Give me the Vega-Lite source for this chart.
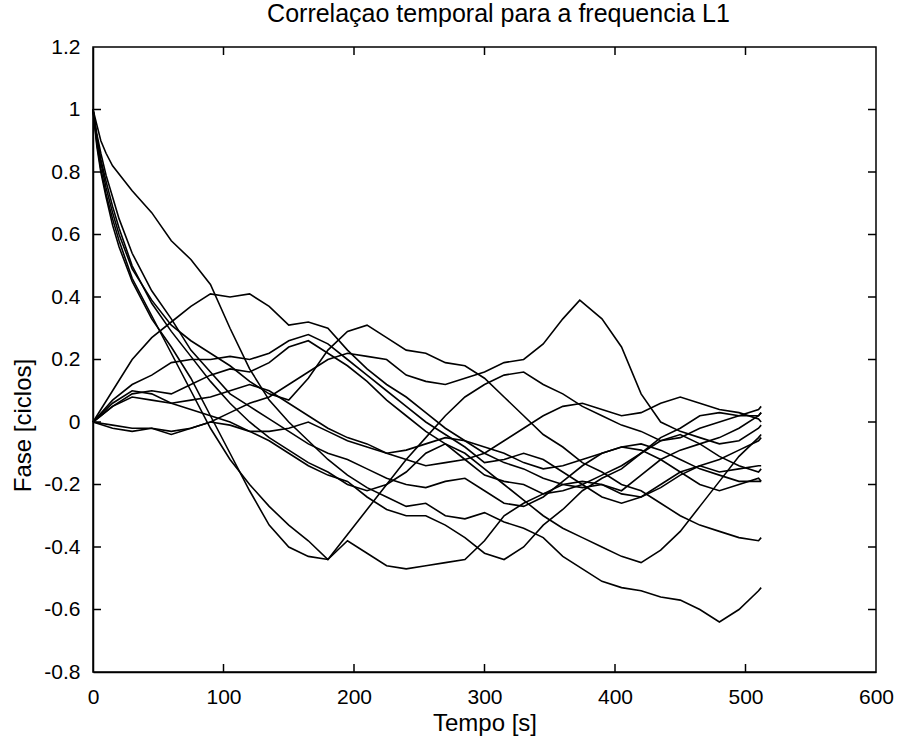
{
  "$schema": "https://vega.github.io/schema/vega-lite/v6.json",
  "width": 783,
  "height": 625,
  "autosize": "none",
  "padding": {"left": 93, "top": 47, "right": 31, "bottom": 70},
  "config": {"view": {"stroke": "black", "strokeWidth": 1.5}},
  "title": {"text": "Correlaçao temporal para a frequencia L1", "fontSize": 25, "fontWeight": "normal", "font": "Liberation Sans", "color": "black", "offset": 9, "anchor": "middle", "dx": 14},
  "data": {"values": [
    {"s":"S1","t":0,"v":1},{"s":"S1","t":3,"v":0.95},{"s":"S1","t":6,"v":0.9},{"s":"S1","t":10,"v":0.86},{"s":"S1","t":15,"v":0.82},{"s":"S1","t":30,"v":0.74},{"s":"S1","t":45,"v":0.67},{"s":"S1","t":60,"v":0.58},{"s":"S1","t":75,"v":0.52},{"s":"S1","t":90,"v":0.44},{"s":"S1","t":105,"v":0.3},{"s":"S1","t":120,"v":0.17},{"s":"S1","t":135,"v":0.07},{"s":"S1","t":150,"v":0.0},{"s":"S1","t":165,"v":-0.06},{"s":"S1","t":180,"v":-0.12},{"s":"S1","t":195,"v":-0.17},{"s":"S1","t":210,"v":-0.21},{"s":"S1","t":225,"v":-0.24},{"s":"S1","t":240,"v":-0.27},{"s":"S1","t":255,"v":-0.26},{"s":"S1","t":270,"v":-0.3},{"s":"S1","t":285,"v":-0.31},{"s":"S1","t":300,"v":-0.29},{"s":"S1","t":315,"v":-0.32},{"s":"S1","t":330,"v":-0.34},{"s":"S1","t":345,"v":-0.37},{"s":"S1","t":360,"v":-0.43},{"s":"S1","t":375,"v":-0.47},{"s":"S1","t":390,"v":-0.51},{"s":"S1","t":405,"v":-0.53},{"s":"S1","t":420,"v":-0.54},{"s":"S1","t":435,"v":-0.56},{"s":"S1","t":450,"v":-0.57},{"s":"S1","t":465,"v":-0.6},{"s":"S1","t":480,"v":-0.64},{"s":"S1","t":495,"v":-0.6},{"s":"S1","t":510,"v":-0.54},{"s":"S1","t":512,"v":-0.53},
    {"s":"S2","t":0,"v":1},{"s":"S2","t":3,"v":0.88},{"s":"S2","t":6,"v":0.8},{"s":"S2","t":10,"v":0.72},{"s":"S2","t":15,"v":0.63},{"s":"S2","t":20,"v":0.56},{"s":"S2","t":30,"v":0.45},{"s":"S2","t":45,"v":0.33},{"s":"S2","t":60,"v":0.24},{"s":"S2","t":75,"v":0.14},{"s":"S2","t":90,"v":0.02},{"s":"S2","t":105,"v":-0.1},{"s":"S2","t":120,"v":-0.22},{"s":"S2","t":135,"v":-0.33},{"s":"S2","t":150,"v":-0.4},{"s":"S2","t":165,"v":-0.43},{"s":"S2","t":180,"v":-0.44},{"s":"S2","t":195,"v":-0.38},{"s":"S2","t":210,"v":-0.42},{"s":"S2","t":225,"v":-0.46},{"s":"S2","t":240,"v":-0.47},{"s":"S2","t":255,"v":-0.46},{"s":"S2","t":270,"v":-0.45},{"s":"S2","t":285,"v":-0.44},{"s":"S2","t":300,"v":-0.38},{"s":"S2","t":315,"v":-0.3},{"s":"S2","t":330,"v":-0.26},{"s":"S2","t":345,"v":-0.23},{"s":"S2","t":360,"v":-0.2},{"s":"S2","t":375,"v":-0.19},{"s":"S2","t":390,"v":-0.2},{"s":"S2","t":405,"v":-0.23},{"s":"S2","t":420,"v":-0.24},{"s":"S2","t":435,"v":-0.2},{"s":"S2","t":450,"v":-0.16},{"s":"S2","t":465,"v":-0.14},{"s":"S2","t":480,"v":-0.16},{"s":"S2","t":495,"v":-0.15},{"s":"S2","t":510,"v":-0.14},{"s":"S2","t":512,"v":-0.14},
    {"s":"S3","t":0,"v":1},{"s":"S3","t":3,"v":0.91},{"s":"S3","t":6,"v":0.84},{"s":"S3","t":10,"v":0.77},{"s":"S3","t":15,"v":0.69},{"s":"S3","t":20,"v":0.62},{"s":"S3","t":30,"v":0.5},{"s":"S3","t":45,"v":0.38},{"s":"S3","t":60,"v":0.29},{"s":"S3","t":75,"v":0.21},{"s":"S3","t":90,"v":0.13},{"s":"S3","t":105,"v":0.06},{"s":"S3","t":120,"v":0.0},{"s":"S3","t":135,"v":-0.05},{"s":"S3","t":150,"v":-0.09},{"s":"S3","t":165,"v":-0.13},{"s":"S3","t":180,"v":-0.16},{"s":"S3","t":195,"v":-0.2},{"s":"S3","t":210,"v":-0.22},{"s":"S3","t":225,"v":-0.2},{"s":"S3","t":240,"v":-0.16},{"s":"S3","t":255,"v":-0.1},{"s":"S3","t":270,"v":-0.07},{"s":"S3","t":285,"v":-0.1},{"s":"S3","t":300,"v":-0.15},{"s":"S3","t":315,"v":-0.2},{"s":"S3","t":330,"v":-0.25},{"s":"S3","t":345,"v":-0.3},{"s":"S3","t":360,"v":-0.34},{"s":"S3","t":375,"v":-0.37},{"s":"S3","t":390,"v":-0.4},{"s":"S3","t":405,"v":-0.43},{"s":"S3","t":420,"v":-0.45},{"s":"S3","t":435,"v":-0.41},{"s":"S3","t":450,"v":-0.35},{"s":"S3","t":465,"v":-0.27},{"s":"S3","t":480,"v":-0.19},{"s":"S3","t":495,"v":-0.11},{"s":"S3","t":510,"v":-0.05},{"s":"S3","t":512,"v":-0.04},
    {"s":"S4","t":0,"v":1},{"s":"S4","t":3,"v":0.9},{"s":"S4","t":6,"v":0.83},{"s":"S4","t":10,"v":0.75},{"s":"S4","t":15,"v":0.67},{"s":"S4","t":20,"v":0.6},{"s":"S4","t":30,"v":0.49},{"s":"S4","t":45,"v":0.39},{"s":"S4","t":60,"v":0.31},{"s":"S4","t":75,"v":0.26},{"s":"S4","t":90,"v":0.22},{"s":"S4","t":105,"v":0.18},{"s":"S4","t":120,"v":0.13},{"s":"S4","t":135,"v":0.09},{"s":"S4","t":150,"v":0.07},{"s":"S4","t":165,"v":0.14},{"s":"S4","t":180,"v":0.23},{"s":"S4","t":195,"v":0.29},{"s":"S4","t":210,"v":0.31},{"s":"S4","t":225,"v":0.27},{"s":"S4","t":240,"v":0.23},{"s":"S4","t":255,"v":0.22},{"s":"S4","t":270,"v":0.19},{"s":"S4","t":285,"v":0.18},{"s":"S4","t":300,"v":0.14},{"s":"S4","t":315,"v":0.08},{"s":"S4","t":330,"v":0.02},{"s":"S4","t":345,"v":-0.04},{"s":"S4","t":360,"v":-0.08},{"s":"S4","t":375,"v":-0.13},{"s":"S4","t":390,"v":-0.16},{"s":"S4","t":405,"v":-0.2},{"s":"S4","t":420,"v":-0.22},{"s":"S4","t":435,"v":-0.26},{"s":"S4","t":450,"v":-0.3},{"s":"S4","t":465,"v":-0.33},{"s":"S4","t":480,"v":-0.35},{"s":"S4","t":495,"v":-0.37},{"s":"S4","t":510,"v":-0.38},{"s":"S4","t":512,"v":-0.37},
    {"s":"S5","t":0,"v":1},{"s":"S5","t":3,"v":0.92},{"s":"S5","t":6,"v":0.86},{"s":"S5","t":10,"v":0.79},{"s":"S5","t":15,"v":0.72},{"s":"S5","t":20,"v":0.65},{"s":"S5","t":30,"v":0.54},{"s":"S5","t":45,"v":0.42},{"s":"S5","t":60,"v":0.33},{"s":"S5","t":75,"v":0.23},{"s":"S5","t":90,"v":0.16},{"s":"S5","t":105,"v":0.09},{"s":"S5","t":120,"v":0.05},{"s":"S5","t":135,"v":0.01},{"s":"S5","t":150,"v":-0.03},{"s":"S5","t":165,"v":-0.07},{"s":"S5","t":180,"v":-0.1},{"s":"S5","t":195,"v":-0.12},{"s":"S5","t":210,"v":-0.15},{"s":"S5","t":225,"v":-0.18},{"s":"S5","t":240,"v":-0.2},{"s":"S5","t":255,"v":-0.21},{"s":"S5","t":270,"v":-0.19},{"s":"S5","t":285,"v":-0.18},{"s":"S5","t":300,"v":-0.22},{"s":"S5","t":315,"v":-0.26},{"s":"S5","t":330,"v":-0.27},{"s":"S5","t":345,"v":-0.24},{"s":"S5","t":360,"v":-0.19},{"s":"S5","t":375,"v":-0.14},{"s":"S5","t":390,"v":-0.1},{"s":"S5","t":405,"v":-0.08},{"s":"S5","t":420,"v":-0.09},{"s":"S5","t":435,"v":-0.12},{"s":"S5","t":450,"v":-0.16},{"s":"S5","t":465,"v":-0.2},{"s":"S5","t":480,"v":-0.22},{"s":"S5","t":495,"v":-0.2},{"s":"S5","t":510,"v":-0.18},{"s":"S5","t":512,"v":-0.19},
    {"s":"S6","t":0,"v":1},{"s":"S6","t":3,"v":0.89},{"s":"S6","t":6,"v":0.81},{"s":"S6","t":10,"v":0.73},{"s":"S6","t":15,"v":0.65},{"s":"S6","t":20,"v":0.58},{"s":"S6","t":30,"v":0.46},{"s":"S6","t":45,"v":0.34},{"s":"S6","t":60,"v":0.22},{"s":"S6","t":75,"v":0.1},{"s":"S6","t":90,"v":-0.02},{"s":"S6","t":105,"v":-0.12},{"s":"S6","t":120,"v":-0.2},{"s":"S6","t":135,"v":-0.27},{"s":"S6","t":150,"v":-0.33},{"s":"S6","t":165,"v":-0.38},{"s":"S6","t":180,"v":-0.44},{"s":"S6","t":195,"v":-0.36},{"s":"S6","t":210,"v":-0.28},{"s":"S6","t":225,"v":-0.2},{"s":"S6","t":240,"v":-0.12},{"s":"S6","t":255,"v":-0.05},{"s":"S6","t":270,"v":0.02},{"s":"S6","t":285,"v":0.08},{"s":"S6","t":300,"v":0.12},{"s":"S6","t":315,"v":0.15},{"s":"S6","t":330,"v":0.16},{"s":"S6","t":345,"v":0.12},{"s":"S6","t":360,"v":0.09},{"s":"S6","t":375,"v":0.05},{"s":"S6","t":390,"v":0.02},{"s":"S6","t":405,"v":-0.01},{"s":"S6","t":420,"v":-0.03},{"s":"S6","t":435,"v":-0.06},{"s":"S6","t":450,"v":-0.05},{"s":"S6","t":465,"v":-0.02},{"s":"S6","t":480,"v":0.0},{"s":"S6","t":495,"v":0.02},{"s":"S6","t":510,"v":0.04},{"s":"S6","t":512,"v":0.05},
    {"s":"Z1","t":0,"v":0},{"s":"Z1","t":15,"v":0.1},{"s":"Z1","t":30,"v":0.2},{"s":"Z1","t":45,"v":0.27},{"s":"Z1","t":60,"v":0.32},{"s":"Z1","t":75,"v":0.37},{"s":"Z1","t":90,"v":0.41},{"s":"Z1","t":105,"v":0.4},{"s":"Z1","t":120,"v":0.41},{"s":"Z1","t":135,"v":0.37},{"s":"Z1","t":150,"v":0.31},{"s":"Z1","t":165,"v":0.32},{"s":"Z1","t":180,"v":0.3},{"s":"Z1","t":195,"v":0.23},{"s":"Z1","t":210,"v":0.17},{"s":"Z1","t":225,"v":0.12},{"s":"Z1","t":240,"v":0.08},{"s":"Z1","t":255,"v":0.03},{"s":"Z1","t":270,"v":-0.02},{"s":"Z1","t":285,"v":-0.06},{"s":"Z1","t":300,"v":-0.1},{"s":"Z1","t":315,"v":-0.13},{"s":"Z1","t":330,"v":-0.15},{"s":"Z1","t":345,"v":-0.18},{"s":"Z1","t":360,"v":-0.2},{"s":"Z1","t":375,"v":-0.21},{"s":"Z1","t":390,"v":-0.2},{"s":"Z1","t":405,"v":-0.22},{"s":"Z1","t":420,"v":-0.17},{"s":"Z1","t":435,"v":-0.12},{"s":"Z1","t":450,"v":-0.09},{"s":"Z1","t":465,"v":-0.07},{"s":"Z1","t":480,"v":-0.05},{"s":"Z1","t":495,"v":-0.02},{"s":"Z1","t":510,"v":0.02},{"s":"Z1","t":512,"v":0.03},
    {"s":"Z2","t":0,"v":0},{"s":"Z2","t":15,"v":0.07},{"s":"Z2","t":30,"v":0.12},{"s":"Z2","t":45,"v":0.15},{"s":"Z2","t":60,"v":0.19},{"s":"Z2","t":75,"v":0.2},{"s":"Z2","t":90,"v":0.2},{"s":"Z2","t":105,"v":0.21},{"s":"Z2","t":120,"v":0.2},{"s":"Z2","t":135,"v":0.22},{"s":"Z2","t":150,"v":0.26},{"s":"Z2","t":165,"v":0.28},{"s":"Z2","t":180,"v":0.25},{"s":"Z2","t":195,"v":0.2},{"s":"Z2","t":210,"v":0.15},{"s":"Z2","t":225,"v":0.1},{"s":"Z2","t":240,"v":0.05},{"s":"Z2","t":255,"v":0.0},{"s":"Z2","t":270,"v":-0.04},{"s":"Z2","t":285,"v":-0.08},{"s":"Z2","t":300,"v":-0.13},{"s":"Z2","t":315,"v":-0.12},{"s":"Z2","t":330,"v":-0.1},{"s":"Z2","t":345,"v":-0.12},{"s":"Z2","t":360,"v":-0.16},{"s":"Z2","t":375,"v":-0.2},{"s":"Z2","t":390,"v":-0.24},{"s":"Z2","t":405,"v":-0.26},{"s":"Z2","t":420,"v":-0.24},{"s":"Z2","t":435,"v":-0.21},{"s":"Z2","t":450,"v":-0.17},{"s":"Z2","t":465,"v":-0.14},{"s":"Z2","t":480,"v":-0.12},{"s":"Z2","t":495,"v":-0.09},{"s":"Z2","t":510,"v":-0.06},{"s":"Z2","t":512,"v":-0.05},
    {"s":"Z3","t":0,"v":0},{"s":"Z3","t":15,"v":0.05},{"s":"Z3","t":30,"v":0.09},{"s":"Z3","t":45,"v":0.1},{"s":"Z3","t":60,"v":0.09},{"s":"Z3","t":75,"v":0.12},{"s":"Z3","t":90,"v":0.15},{"s":"Z3","t":105,"v":0.17},{"s":"Z3","t":120,"v":0.16},{"s":"Z3","t":135,"v":0.19},{"s":"Z3","t":150,"v":0.24},{"s":"Z3","t":165,"v":0.26},{"s":"Z3","t":180,"v":0.22},{"s":"Z3","t":195,"v":0.18},{"s":"Z3","t":210,"v":0.13},{"s":"Z3","t":225,"v":0.07},{"s":"Z3","t":240,"v":0.02},{"s":"Z3","t":255,"v":-0.03},{"s":"Z3","t":270,"v":-0.07},{"s":"Z3","t":285,"v":-0.12},{"s":"Z3","t":300,"v":-0.17},{"s":"Z3","t":315,"v":-0.19},{"s":"Z3","t":330,"v":-0.2},{"s":"Z3","t":345,"v":-0.23},{"s":"Z3","t":360,"v":-0.22},{"s":"Z3","t":375,"v":-0.2},{"s":"Z3","t":390,"v":-0.17},{"s":"Z3","t":405,"v":-0.14},{"s":"Z3","t":420,"v":-0.1},{"s":"Z3","t":435,"v":-0.06},{"s":"Z3","t":450,"v":-0.04},{"s":"Z3","t":465,"v":-0.07},{"s":"Z3","t":480,"v":-0.11},{"s":"Z3","t":495,"v":-0.14},{"s":"Z3","t":510,"v":-0.16},{"s":"Z3","t":512,"v":-0.15},
    {"s":"Z4","t":0,"v":0},{"s":"Z4","t":15,"v":-0.01},{"s":"Z4","t":30,"v":-0.02},{"s":"Z4","t":45,"v":-0.02},{"s":"Z4","t":60,"v":-0.03},{"s":"Z4","t":75,"v":-0.02},{"s":"Z4","t":90,"v":0.0},{"s":"Z4","t":105,"v":0.03},{"s":"Z4","t":120,"v":0.06},{"s":"Z4","t":135,"v":0.08},{"s":"Z4","t":150,"v":0.12},{"s":"Z4","t":165,"v":0.16},{"s":"Z4","t":180,"v":0.2},{"s":"Z4","t":195,"v":0.22},{"s":"Z4","t":210,"v":0.21},{"s":"Z4","t":225,"v":0.2},{"s":"Z4","t":240,"v":0.15},{"s":"Z4","t":255,"v":0.13},{"s":"Z4","t":270,"v":0.12},{"s":"Z4","t":285,"v":0.14},{"s":"Z4","t":300,"v":0.16},{"s":"Z4","t":315,"v":0.19},{"s":"Z4","t":330,"v":0.2},{"s":"Z4","t":345,"v":0.25},{"s":"Z4","t":360,"v":0.33},{"s":"Z4","t":373,"v":0.39},{"s":"Z4","t":390,"v":0.33},{"s":"Z4","t":405,"v":0.24},{"s":"Z4","t":420,"v":0.09},{"s":"Z4","t":435,"v":0.0},{"s":"Z4","t":450,"v":-0.03},{"s":"Z4","t":465,"v":-0.05},{"s":"Z4","t":480,"v":-0.07},{"s":"Z4","t":495,"v":-0.06},{"s":"Z4","t":510,"v":-0.02},{"s":"Z4","t":512,"v":-0.01},
    {"s":"Z5","t":0,"v":0},{"s":"Z5","t":15,"v":0.05},{"s":"Z5","t":30,"v":0.08},{"s":"Z5","t":45,"v":0.07},{"s":"Z5","t":60,"v":0.06},{"s":"Z5","t":75,"v":0.04},{"s":"Z5","t":90,"v":0.02},{"s":"Z5","t":105,"v":0.0},{"s":"Z5","t":120,"v":-0.03},{"s":"Z5","t":135,"v":-0.06},{"s":"Z5","t":150,"v":-0.1},{"s":"Z5","t":165,"v":-0.14},{"s":"Z5","t":180,"v":-0.17},{"s":"Z5","t":195,"v":-0.19},{"s":"Z5","t":210,"v":-0.24},{"s":"Z5","t":225,"v":-0.28},{"s":"Z5","t":240,"v":-0.3},{"s":"Z5","t":255,"v":-0.3},{"s":"Z5","t":270,"v":-0.33},{"s":"Z5","t":285,"v":-0.37},{"s":"Z5","t":300,"v":-0.42},{"s":"Z5","t":315,"v":-0.44},{"s":"Z5","t":330,"v":-0.4},{"s":"Z5","t":345,"v":-0.33},{"s":"Z5","t":360,"v":-0.28},{"s":"Z5","t":375,"v":-0.22},{"s":"Z5","t":390,"v":-0.18},{"s":"Z5","t":405,"v":-0.15},{"s":"Z5","t":420,"v":-0.1},{"s":"Z5","t":435,"v":-0.05},{"s":"Z5","t":450,"v":-0.02},{"s":"Z5","t":465,"v":0.02},{"s":"Z5","t":480,"v":0.03},{"s":"Z5","t":495,"v":0.02},{"s":"Z5","t":510,"v":0.02},{"s":"Z5","t":512,"v":0.03},
    {"s":"Z6","t":0,"v":0},{"s":"Z6","t":15,"v":0.06},{"s":"Z6","t":30,"v":0.1},{"s":"Z6","t":45,"v":0.09},{"s":"Z6","t":60,"v":0.06},{"s":"Z6","t":75,"v":0.07},{"s":"Z6","t":90,"v":0.08},{"s":"Z6","t":105,"v":0.1},{"s":"Z6","t":120,"v":0.12},{"s":"Z6","t":135,"v":0.1},{"s":"Z6","t":150,"v":0.06},{"s":"Z6","t":165,"v":0.02},{"s":"Z6","t":180,"v":-0.02},{"s":"Z6","t":195,"v":-0.05},{"s":"Z6","t":210,"v":-0.07},{"s":"Z6","t":225,"v":-0.1},{"s":"Z6","t":240,"v":-0.12},{"s":"Z6","t":255,"v":-0.14},{"s":"Z6","t":270,"v":-0.13},{"s":"Z6","t":285,"v":-0.12},{"s":"Z6","t":300,"v":-0.1},{"s":"Z6","t":315,"v":-0.06},{"s":"Z6","t":330,"v":-0.02},{"s":"Z6","t":345,"v":0.02},{"s":"Z6","t":360,"v":0.05},{"s":"Z6","t":375,"v":0.06},{"s":"Z6","t":390,"v":0.04},{"s":"Z6","t":405,"v":0.02},{"s":"Z6","t":420,"v":0.03},{"s":"Z6","t":435,"v":0.06},{"s":"Z6","t":450,"v":0.08},{"s":"Z6","t":465,"v":0.06},{"s":"Z6","t":480,"v":0.04},{"s":"Z6","t":495,"v":0.03},{"s":"Z6","t":510,"v":0.01},{"s":"Z6","t":512,"v":0.0},
    {"s":"Z7","t":0,"v":0},{"s":"Z7","t":15,"v":-0.02},{"s":"Z7","t":30,"v":-0.03},{"s":"Z7","t":45,"v":-0.02},{"s":"Z7","t":60,"v":-0.04},{"s":"Z7","t":75,"v":-0.02},{"s":"Z7","t":90,"v":0.0},{"s":"Z7","t":105,"v":-0.01},{"s":"Z7","t":120,"v":-0.03},{"s":"Z7","t":135,"v":-0.03},{"s":"Z7","t":150,"v":-0.02},{"s":"Z7","t":165,"v":0.0},{"s":"Z7","t":180,"v":-0.03},{"s":"Z7","t":195,"v":-0.06},{"s":"Z7","t":210,"v":-0.08},{"s":"Z7","t":225,"v":-0.1},{"s":"Z7","t":240,"v":-0.09},{"s":"Z7","t":255,"v":-0.07},{"s":"Z7","t":270,"v":-0.05},{"s":"Z7","t":285,"v":-0.06},{"s":"Z7","t":300,"v":-0.08},{"s":"Z7","t":315,"v":-0.1},{"s":"Z7","t":330,"v":-0.13},{"s":"Z7","t":345,"v":-0.15},{"s":"Z7","t":360,"v":-0.14},{"s":"Z7","t":375,"v":-0.12},{"s":"Z7","t":390,"v":-0.1},{"s":"Z7","t":405,"v":-0.08},{"s":"Z7","t":420,"v":-0.07},{"s":"Z7","t":435,"v":-0.09},{"s":"Z7","t":450,"v":-0.12},{"s":"Z7","t":465,"v":-0.15},{"s":"Z7","t":480,"v":-0.17},{"s":"Z7","t":495,"v":-0.19},{"s":"Z7","t":510,"v":-0.19},{"s":"Z7","t":512,"v":-0.19}
  ]},
  "layer": [
    {
      "mark": {"type": "line", "color": "black", "strokeWidth": 1.6},
      "encoding": {
        "x": {"field": "t", "type": "quantitative", "scale": {"domain": [0, 600], "nice": false, "zero": false},
              "axis": {"orient": "bottom", "values": [0,100,200,300,400,500,600], "format": "d", "grid": false, "ticks": false, "domainColor": "black", "domainWidth": 1.5, "labelPadding": 14, "labelFont": "Liberation Sans", "labelFontSize": 21, "labelColor": "black", "title": "Tempo [s]", "titleFont": "Liberation Sans", "titleFontSize": 24, "titleFontWeight": "normal", "titleColor": "black", "titlePadding": 4, "labelFlush": false}},
        "y": {"field": "v", "type": "quantitative", "scale": {"domain": [-0.8, 1.2], "nice": false, "zero": false},
              "axis": {"orient": "left", "values": [-0.8,-0.6,-0.4,-0.2,0,0.2,0.4,0.6,0.8,1,1.2], "labelExpr": "replace(format(datum.value, '.1~f'), '\u2212', '-')", "grid": false, "ticks": false, "domainColor": "black", "domainWidth": 1.5, "labelPadding": 13, "labelFont": "Liberation Sans", "labelFontSize": 21, "labelColor": "black", "title": "Fase [ciclos]", "titleFont": "Liberation Sans", "titleFontSize": 24, "titleFontWeight": "normal", "titleColor": "black", "titlePadding": 8, "titleY": 378, "labelFlush": false}},
        "detail": {"field": "s", "type": "nominal"}
      }
    },
    {
      "data": {"values": [{"p":100},{"p":200},{"p":300},{"p":400},{"p":500}]},
      "mark": {"type": "tick", "orient": "vertical", "size": 8, "thickness": 1.5, "color": "black", "opacity": 1, "yOffset": -4},
      "encoding": {
        "x": {"field": "p", "type": "quantitative"},
        "y": {"datum": -0.8, "type": "quantitative"}
      }
    },
    {
      "data": {"values": [{"p":100},{"p":200},{"p":300},{"p":400},{"p":500}]},
      "mark": {"type": "tick", "orient": "vertical", "size": 8, "thickness": 1.5, "color": "black", "opacity": 1, "yOffset": 4},
      "encoding": {
        "x": {"field": "p", "type": "quantitative"},
        "y": {"datum": 1.2, "type": "quantitative"}
      }
    },
    {
      "data": {"values": [{"p":-0.6},{"p":-0.4},{"p":-0.2},{"p":0},{"p":0.2},{"p":0.4},{"p":0.6},{"p":0.8},{"p":1}]},
      "mark": {"type": "tick", "orient": "horizontal", "size": 8, "thickness": 1.5, "color": "black", "opacity": 1, "xOffset": 4},
      "encoding": {
        "x": {"datum": 0, "type": "quantitative"},
        "y": {"field": "p", "type": "quantitative"}
      }
    },
    {
      "data": {"values": [{"p":-0.6},{"p":-0.4},{"p":-0.2},{"p":0},{"p":0.2},{"p":0.4},{"p":0.6},{"p":0.8},{"p":1}]},
      "mark": {"type": "tick", "orient": "horizontal", "size": 8, "thickness": 1.5, "color": "black", "opacity": 1, "xOffset": -4},
      "encoding": {
        "x": {"datum": 600, "type": "quantitative"},
        "y": {"field": "p", "type": "quantitative"}
      }
    }
  ]
}
